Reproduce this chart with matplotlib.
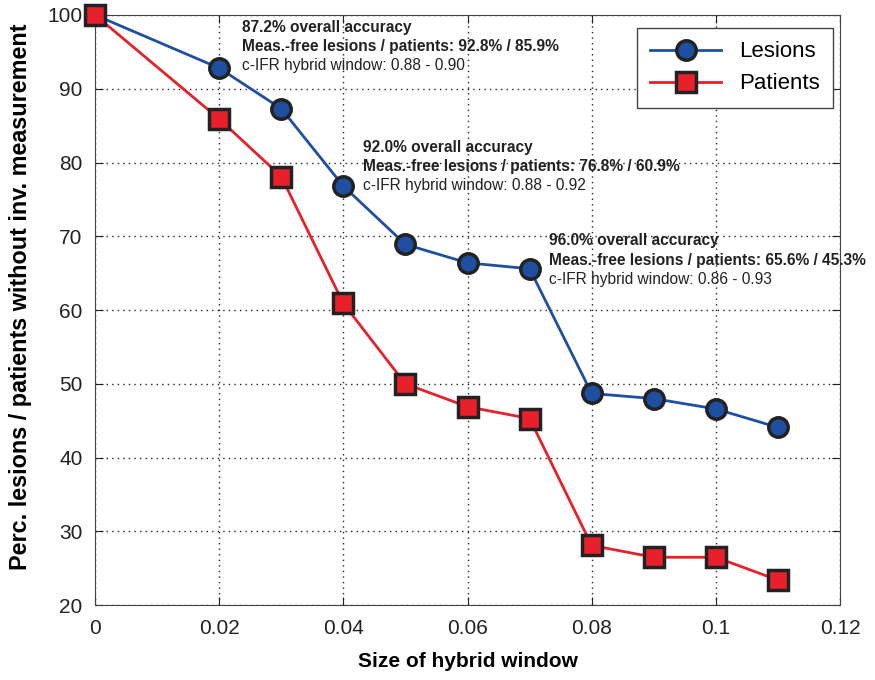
import matplotlib
matplotlib.use("Agg")
import matplotlib.pyplot as plt

plt.rcParams["font.family"] = ["Liberation Sans", "DejaVu Sans"]

window_size = [0.0, 0.02, 0.03, 0.04, 0.05, 0.06, 0.07, 0.08, 0.09, 0.10, 0.11]
lesions = [100.0, 92.8, 87.3, 76.8, 68.9, 66.4, 65.6, 48.7, 48.0, 46.6, 44.1]
patients = [100.0, 85.9, 78.1, 60.9, 50.0, 46.9, 45.3, 28.1, 26.5, 26.5, 23.4]

annotations = [
    (0.0237, 99.3, "87.2% overall accuracy",
     "Meas.-free lesions / patients: 92.8% / 85.9%",
     "c-IFR hybrid window: 0.88 - 0.90"),
    (0.0431, 83.1, "92.0% overall accuracy",
     "Meas.-free lesions / patients: 76.8% / 60.9%",
     "c-IFR hybrid window: 0.88 - 0.92"),
    (0.0732, 70.4, "96.0% overall accuracy",
     "Meas.-free lesions / patients: 65.6% / 45.3%",
     "c-IFR hybrid window: 0.86 - 0.93"),
]

blue = "#1f4fa0"
red = "#e8202c"
edge = "#222222"

fig = plt.figure(figsize=(8.75, 6.8), dpi=100)
ax = fig.add_axes([0.1086, 0.11, 0.8514, 0.868])

ax.plot(window_size, lesions, color=blue, linewidth=2, marker="o",
        markersize=14, markerfacecolor=blue, markeredgecolor=edge,
        markeredgewidth=2.5, label="Lesions", zorder=3, clip_on=False)
ax.plot(window_size, patients, color=red, linewidth=2, marker="s",
        markersize=14, markerfacecolor=red, markeredgecolor=edge,
        markeredgewidth=2.5, label="Patients", zorder=3, clip_on=False)

for x, y, l1, l2, l3 in annotations:
    ax.text(x, y, l1, fontsize=11.2, fontweight="bold", color="#222222", va="top")
    ax.text(x, y - 2.6, l2, fontsize=11.2, fontweight="bold", color="#222222", va="top")
    ax.text(x, y - 5.2, l3, fontsize=11.2, color="#222222", va="top")

ax.set_xlim(0, 0.12)
ax.set_ylim(20, 100)
ax.set_xticks([0, 0.02, 0.04, 0.06, 0.08, 0.1, 0.12])
ax.set_xticklabels(["0", "0.02", "0.04", "0.06", "0.08", "0.1", "0.12"])
ax.set_yticks(range(20, 101, 10))
ax.tick_params(direction="in", length=6, labelsize=15, top=True, right=True,
               colors="#222222")
ax.tick_params(axis="x", pad=10)
ax.tick_params(axis="y", pad=9)
ax.grid(True, color="#222222", linestyle=(0, (1, 3)), linewidth=1)
for s in ax.spines.values():
    s.set_color("#444444")

ax.set_xlabel("Size of hybrid window", fontsize=15, fontweight="bold", labelpad=10)
ax.set_ylabel("Perc. lesions / patients without inv. measurement", fontsize=16.8,
              fontweight="bold")
ax.yaxis.set_label_coords(-0.084, 0.522)

leg = ax.legend(loc="upper right", fontsize=16, fancybox=False, framealpha=1,
                edgecolor="#444444", borderpad=0.6, handlelength=3.2,
                borderaxespad=0, bbox_to_anchor=(0.9906, 0.978))
leg.get_frame().set_linewidth(1)

fig.savefig("out.png", dpi=100)
